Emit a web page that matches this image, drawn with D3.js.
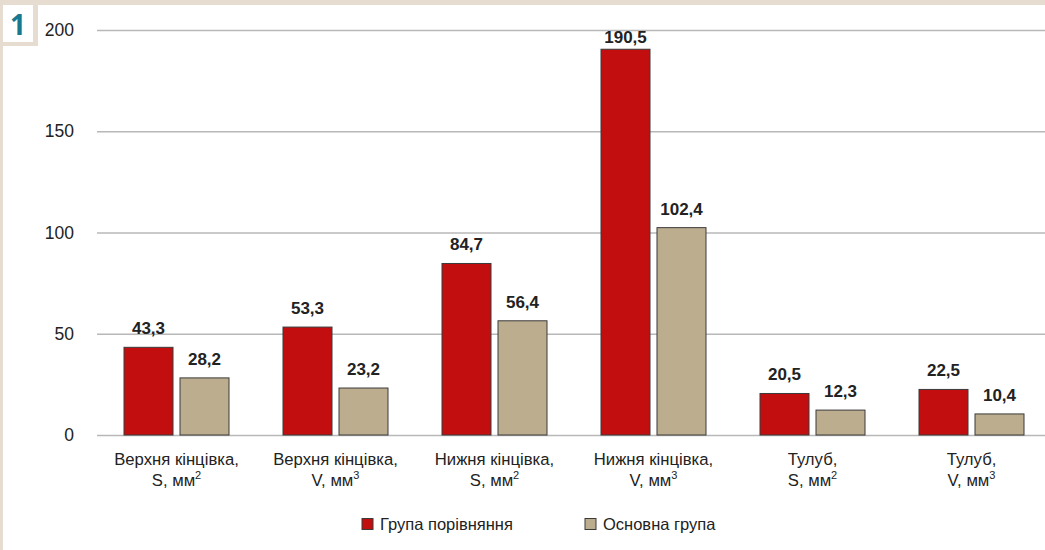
<!DOCTYPE html>
<html>
<head>
<meta charset="utf-8">
<script src="https://cdn.jsdelivr.net/npm/d3@7"></script>
<style>
  html, body { margin: 0; padding: 0; background: #fff; }
  svg { display: block; font-family: "Liberation Sans", Arial, sans-serif; }
</style>
</head>
<body>
<svg id="chart" width="1045" height="550"></svg>
<script>
// Categories (two-line labels; unit power rendered as superscript)
const categories = [
  ["Верхня кінцівка,", "S, мм", "2"],
  ["Верхня кінцівка,", "V, мм", "3"],
  ["Нижня кінцівка,", "S, мм", "2"],
  ["Нижня кінцівка,", "V, мм", "3"],
  ["Тулуб,", "S, мм", "2"],
  ["Тулуб,", "V, мм", "3"]
];
const seriesNames = ["Група порівняння", "Основна група"];
const comparisonGroup = [43.3, 53.3, 84.7, 190.5, 20.5, 22.5];
const mainGroup = [28.2, 23.2, 56.4, 102.4, 12.3, 10.4];
const yTicks = [0, 50, 100, 150, 200];
const colors = ["#c20e0e", "#bcad8f"];

const svg = d3.select("#chart");
const W = 1045, H = 550;
const FONT = "'Liberation Sans', Arial, sans-serif";

// Frame: beige top strip and left strip
svg.append("rect").attr("x", 0).attr("y", 0).attr("width", W).attr("height", 5).attr("fill", "#e6dccf");
svg.append("rect").attr("x", 0).attr("y", 0).attr("width", 3).attr("height", H).attr("fill", "#e6dccf");

// Figure number badge
svg.append("rect").attr("x", 0).attr("y", 0).attr("width", 38).attr("height", 46).attr("fill", "#e6dccf");
svg.append("rect").attr("x", 3).attr("y", 5).attr("width", 30).attr("height", 37).attr("fill", "#fff");
svg.append("text").attr("x", 18).attr("y", 35).attr("text-anchor", "middle")
  .attr("font-size", 28).attr("font-weight", "bold").attr("fill", "#17788f")
  .attr("font-family", "'Open Sans', 'Liberation Sans', sans-serif").text("1");

const x0 = d3.scaleBand().domain(d3.range(categories.length)).range([97, 1051]).paddingInner(0).paddingOuter(0);
const y = d3.scaleLinear().domain([0, 200]).range([435, 30]);

// Gridlines and y tick labels
const yAxis = d3.axisLeft(y).tickValues(yTicks).tickSize(-(1045 - 97)).tickPadding(23).tickFormat(d3.format("d"));
const gy = svg.append("g").attr("transform", "translate(97,0)").call(yAxis);
gy.select(".domain").remove();
gy.selectAll(".tick line").attr("stroke", "#b8b8b8").attr("stroke-width", 1.5);
gy.selectAll(".tick text").attr("font-size", 17.5).attr("fill", "#222").attr("font-family", FONT);

// Bars: 49px wide, 7px apart, centred in each category band
const bw = x0.bandwidth();
const pairW = 105, padL = (bw - pairW) / 2;
const x1 = d3.scaleBand().domain([0, 1]).range([padL, padL + pairW]).paddingInner(0.125).paddingOuter(0);

const series = [comparisonGroup, mainGroup];
const fmt = v => d3.format(".1f")(v).replace(".", ",");

series.forEach((vals, si) => {
  const g = svg.append("g");
  g.selectAll("rect").data(vals).join("rect")
    .attr("x", (d, i) => x0(i) + x1(si))
    .attr("y", d => y(d))
    .attr("width", x1.bandwidth())
    .attr("height", d => y(0) - y(d))
    .attr("fill", colors[si])
    .attr("stroke", "#3a3a3a")
    .attr("stroke-width", 1);
  // value labels sit above the bar, kept inside the plot area near the top
  g.selectAll("text").data(vals).join("text")
    .attr("x", (d, i) => x0(i) + x1(si) + x1.bandwidth() / 2)
    .attr("y", d => Math.max(y(d) - 13, 43))
    .attr("text-anchor", "middle")
    .attr("font-size", 17).attr("font-weight", "bold").attr("fill", "#222")
    .attr("font-family", FONT)
    .text(d => fmt(d));
});

// Category labels
const cg = svg.append("g").attr("font-family", FONT);
categories.forEach((c, i) => {
  const cx = x0(i) + bw / 2;
  cg.append("text").attr("x", cx).attr("y", 465).attr("text-anchor", "middle")
    .attr("font-size", 16.7).attr("fill", "#222").text(c[0]);
  const t = cg.append("text").attr("x", cx).attr("y", 486).attr("text-anchor", "middle")
    .attr("font-size", 16.7).attr("fill", "#222");
  t.append("tspan").text(c[1]);
  t.append("tspan").attr("font-size", 11).attr("dy", -7).text(c[2]);
});

// Legend
const legendX = [362, 585];
seriesNames.forEach((name, i) => {
  svg.append("rect").attr("x", legendX[i]).attr("y", 518.5).attr("width", 11).attr("height", 11)
    .attr("fill", colors[i]).attr("stroke", "#3a3a3a").attr("stroke-width", 1);
  svg.append("text").attr("x", legendX[i] + 18).attr("y", 530)
    .attr("font-size", 16.5).attr("fill", "#222").attr("font-family", FONT).text(name);
});
</script>
</body>
</html>
